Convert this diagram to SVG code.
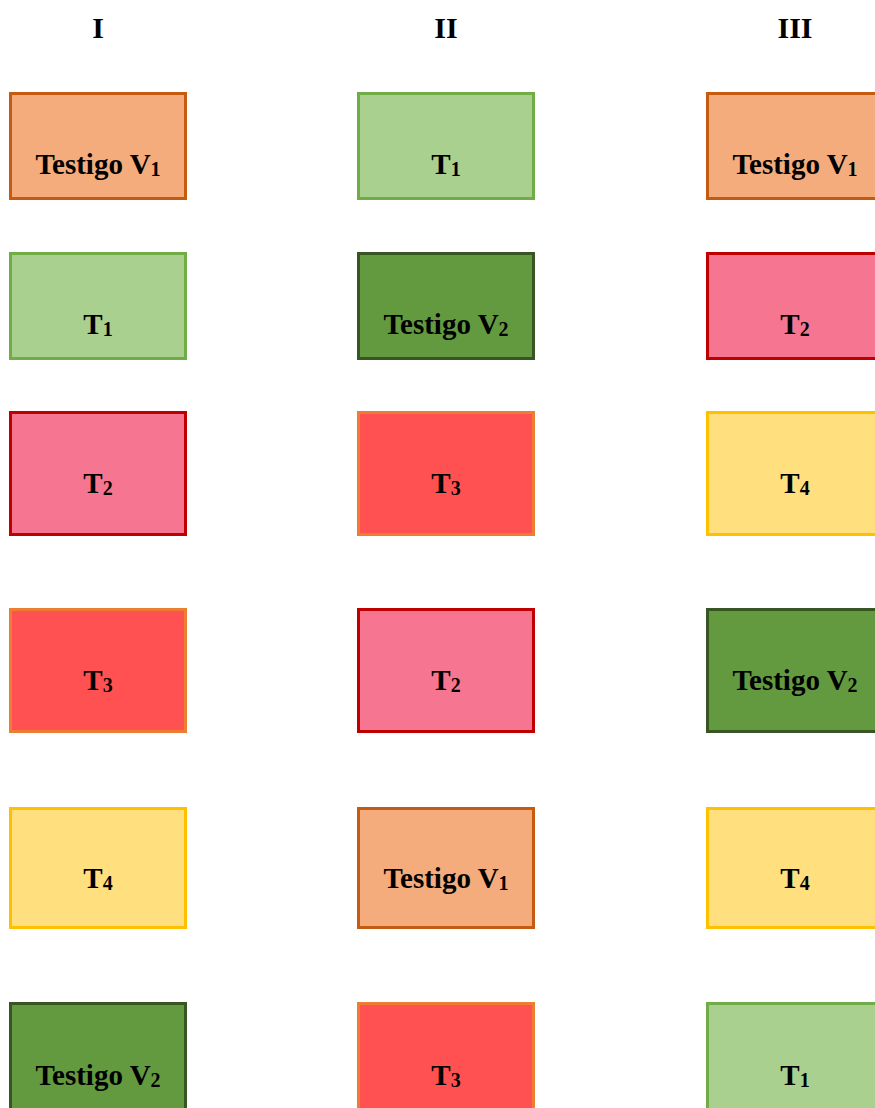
<svg xmlns="http://www.w3.org/2000/svg" width="875" height="1108" viewBox="0 0 875 1108">
<style>
text{font-family:"Liberation Serif","Times New Roman",serif;font-weight:bold;fill:#000;text-anchor:middle}
.lbl{font-size:29px}
.hdr{font-size:30px}
.sub{font-size:20px}
rect{stroke-width:3}
.v1{fill:#F4AC7C;stroke:#C55A11}
.t1{fill:#A9D08E;stroke:#70AD47}
.v2{fill:#639A3F;stroke:#375623}
.t2{fill:#F67590;stroke:#C00000}
.t3{fill:#FF5151;stroke:#ED7D31}
.t4{fill:#FFDF7E;stroke:#FFC000}
</style>
<rect width="875" height="1108" fill="#fff" style="stroke:none"/>
<g id="headers">
<text class="hdr" x="98" y="38">I</text>
<text class="hdr" x="446" y="38">II</text>
<text class="hdr" x="795" y="38">III</text>
</g>
<g id="connectors"></g>
<!-- Column I -->
<g id="n-I-1"><rect class="v1" x="10.5" y="93.5" width="175" height="105"/><text class="lbl" x="98" y="174">Testigo V<tspan class="sub" dy="2">1</tspan></text></g>
<g id="n-I-2"><rect class="t1" x="10.5" y="253.5" width="175" height="105"/><text class="lbl" x="98" y="334">T<tspan class="sub" dy="2">1</tspan></text></g>
<g id="n-I-3"><rect class="t2" x="10.5" y="412.5" width="175" height="122"/><text class="lbl" x="98" y="493">T<tspan class="sub" dy="2">2</tspan></text></g>
<g id="n-I-4"><rect class="t3" x="10.5" y="609.5" width="175" height="122"/><text class="lbl" x="98" y="690">T<tspan class="sub" dy="2">3</tspan></text></g>
<g id="n-I-5"><rect class="t4" x="10.5" y="808.5" width="175" height="119"/><text class="lbl" x="98" y="888">T<tspan class="sub" dy="2">4</tspan></text></g>
<g id="n-I-6"><rect class="v2" x="10.5" y="1003.5" width="175" height="119"/><text class="lbl" x="98" y="1085">Testigo V<tspan class="sub" dy="2">2</tspan></text></g>
<!-- Column II -->
<g id="n-II-1"><rect class="t1" x="358.5" y="93.5" width="175" height="105"/><text class="lbl" x="446" y="174">T<tspan class="sub" dy="2">1</tspan></text></g>
<g id="n-II-2"><rect class="v2" x="358.5" y="253.5" width="175" height="105"/><text class="lbl" x="446" y="334">Testigo V<tspan class="sub" dy="2">2</tspan></text></g>
<g id="n-II-3"><rect class="t3" x="358.5" y="412.5" width="175" height="122"/><text class="lbl" x="446" y="493">T<tspan class="sub" dy="2">3</tspan></text></g>
<g id="n-II-4"><rect class="t2" x="358.5" y="609.5" width="175" height="122"/><text class="lbl" x="446" y="690">T<tspan class="sub" dy="2">2</tspan></text></g>
<g id="n-II-5"><rect class="v1" x="358.5" y="808.5" width="175" height="119"/><text class="lbl" x="446" y="888">Testigo V<tspan class="sub" dy="2">1</tspan></text></g>
<g id="n-II-6"><rect class="t3" x="358.5" y="1003.5" width="175" height="119"/><text class="lbl" x="446" y="1085">T<tspan class="sub" dy="2">3</tspan></text></g>
<!-- Column III -->
<g id="n-III-1"><rect class="v1" x="707.5" y="93.5" width="175" height="105"/><text class="lbl" x="795" y="174">Testigo V<tspan class="sub" dy="2">1</tspan></text></g>
<g id="n-III-2"><rect class="t2" x="707.5" y="253.5" width="175" height="105"/><text class="lbl" x="795" y="334">T<tspan class="sub" dy="2">2</tspan></text></g>
<g id="n-III-3"><rect class="t4" x="707.5" y="412.5" width="175" height="122"/><text class="lbl" x="795" y="493">T<tspan class="sub" dy="2">4</tspan></text></g>
<g id="n-III-4"><rect class="v2" x="707.5" y="609.5" width="175" height="122"/><text class="lbl" x="795" y="690">Testigo V<tspan class="sub" dy="2">2</tspan></text></g>
<g id="n-III-5"><rect class="t4" x="707.5" y="808.5" width="175" height="119"/><text class="lbl" x="795" y="888">T<tspan class="sub" dy="2">4</tspan></text></g>
<g id="n-III-6"><rect class="t1" x="707.5" y="1003.5" width="175" height="119"/><text class="lbl" x="795" y="1085">T<tspan class="sub" dy="2">1</tspan></text></g>
</svg>
